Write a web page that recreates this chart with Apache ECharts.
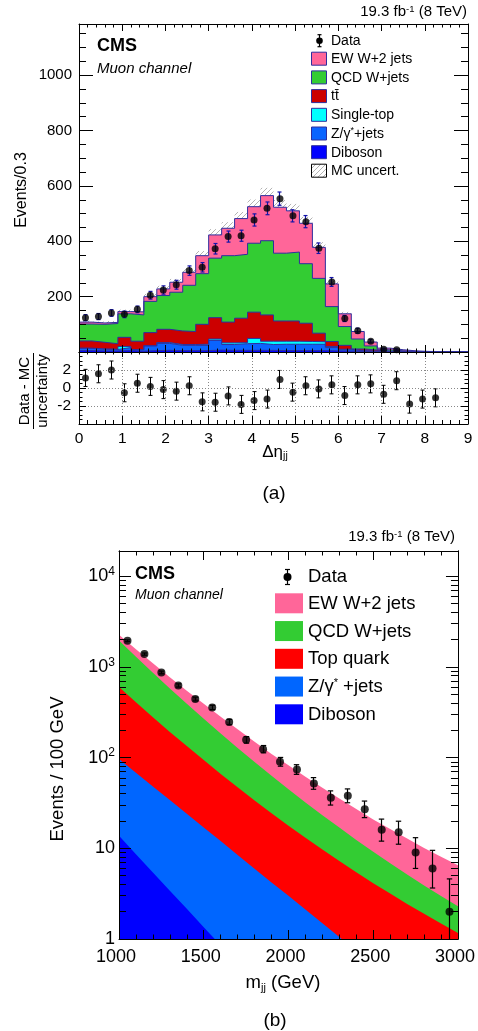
<!DOCTYPE html>
<html><head><meta charset="utf-8">
<script src="https://cdn.jsdelivr.net/npm/echarts@6/dist/echarts.min.js"></script>
<style>html,body{margin:0;padding:0;background:#fff}#c{width:478px;height:1031px}</style>
</head><body><div id="c"></div>
<script>
// ================= Panel (a): delta eta_jj =================
const etaEdges = [0,0.3,0.6,0.9,1.2,1.5,1.8,2.1,2.4,2.7,3.0,3.3,3.6,3.9,4.2,4.5,4.8,5.1,5.4,5.7,6.0,6.3,6.6,6.9,7.2,7.5,7.8,8.1,8.4,8.7,9.0];
const ewkW      = [7,5,4,8,11,17,24,36,47,65,84,99,129,132,163,166,149,146,112,82,46,27,14,6,4,2,1,0.8,0.5,0.3];
const qcdW      = [61,65,73,85,95,113,122,140,167,183,215,240,231,249,268,245,249,215,198,126,68,36,15,5,2,1,0.5,0.4,0.3,0.2];
const ttbar     = [26,24,20,33,30,47,48,49,47,72,77,75,88,95,95,73,73,66,31,18,14,6,4,1,1,0.5,0.2,0.1,0.05,0.05];
const singleTop = [1,1,1,4,1,1,3,3,3,4,5,6,4,18,12,11,11,10,9,4,2,1,1,0.5,0.2,0.1,0.1,0.05,0.05,0.05];
const zJets     = [8,6,5,11,5,17,25,19,19,19,35,21,24,25,21,23,23,23,23,12,5,2,1,0.5,0.5,0.2,0.1,0.1,0.05,0.05];
const diboson   = [5,4,4,5,3,5,6,5,5,5,7,6,6,6,6,5,5,5,5,4,3,2,1,1,0.5,0.3,0.2,0.1,0.05,0.05];
const mcUnc     = [5,5,5,7,7,10,11,12,14,17,21,22,24,26,28,26,25,23,19,12,7,4,2,1,0.5,0.3,0.2,0.1,0.1,0.05];
const dataEta    = [124,128,141,136,154,205,224,243,294,306,373,417,420,477,519,554,492,471,375,253,121,77,39,10,8];
const dataEtaErr = [11,11,12,12,12,14,15,16,17,17,19,20,20,22,23,24,22,22,19,16,11,9,6,3,3];
const pullEta    = [1.12,1.58,2.0,-0.53,0.53,0.18,-0.18,-0.35,0.25,-1.54,-1.58,-0.88,-1.82,-1.40,-1.23,0.95,-0.46,0.25,-0.1,0.35,-0.84,0.35,0.46,-0.7,0.81,-1.79,-1.23,-1.09];
const pullEtaErr = [0.95,1,1,1,1,1,1,1,1,1,1,1,1,1,1,1,1,1,1,1,1,1,1,1,1,1,1,1];

// ================= Panel (b): m_jj =================
const mjjGrid = [1000,1100,1200,1300,1400,1500,1600,1700,1800,1900,2000,2100,2200,2300,2400,2500,2600,2700,2800,2900,3000];
const ewkMjj = [306,276,233,192,154,124,98,77,60.7,47,37.4,29.4,23.3,18.4,14.7,11.7,9.5,7.7,6.2,5.1,4.2];
const qcdMjj = [1359,887,584,387,259,174,118,81,55.5,38.6,27.0,19.0,13.5,9.7,6.95,5.03,3.66,2.71,2.0,1.49,1.13];
const topMjj = [503,339,231,158,110,77,54,38.6,27.8,20.2,14.8,11.0,8.2,6.2,4.7,3.6,2.8,2.17,1.71,1.35,1.07];
const zMjj   = [83,59.5,42.8,30.6,21.9,15.6,11.2,7.9,5.6,4.0,2.86,2.03,1.44,1.02,0.72,0.51,0.36,0.26,0.18,0.13,0.09];
const dibMjj = [13.8,8.6,5.4,3.4,2.15,1.35,0.85,0.54,0.34,0.21,0.13,0.08,0.05,0.03,0.02,0.013,0.008,0.005,0.003,0.002,0.001];
const mjjDataX   = [1050,1150,1250,1350,1450,1550,1650,1750,1850,1950,2050,2150,2250,2350,2450,2550,2650,2750,2850,2950];
const dataMjj    = [1945,1387,870,625,443,358,247,157,124,90,74,52,36,38,27,16,15,9,6,2];
const dataMjjLo  = [44,37,29,25,21,19,16,12.5,11,9.5,8.6,7.2,6,6.2,5.2,4,3.9,3,2.35,1.9];
const dataMjjHi  = [45,38,30,26,22,20,17,13.5,12,10.5,9.6,8.2,7,7.2,6.2,5,4.9,4.1,3.5,2.6];

const FF = 'Liberation Sans';
const NAVY = '#2e2e9e';

// hatch pattern for MC uncertainty
const hc = document.createElement('canvas'); hc.width = 5; hc.height = 5;
(function(){ const g = hc.getContext('2d'); g.strokeStyle = '#a0a0a0'; g.lineWidth = 0.8;
  g.beginPath(); g.moveTo(0,5); g.lineTo(5,0); g.moveTo(-1,1); g.lineTo(1,-1); g.moveTo(4,6); g.lineTo(6,4); g.stroke(); })();
const hatch = {image: hc, repeat: 'repeat'};

// cumulative stacks
function cumulate(list) {
  let run = list[0].vals.map(() => 0);
  return list.map(s => { run = run.map((r, i) => r + s.vals[i]); return Object.assign({}, s, {cum: run.slice()}); });
}
const etaStack = cumulate([
  {vals: diboson, color: '#0000ff'},
  {vals: zJets, color: '#0a64ff'},
  {vals: singleTop, color: '#00ffff'},
  {vals: ttbar, color: '#cc0000'},
  {vals: qcdW, color: '#33cc33'},
  {vals: ewkW, color: '#ff6699'}
]);
const mjjStack = cumulate([
  {vals: dibMjj, color: '#0000ff'},
  {vals: zMjj, color: '#0066ff'},
  {vals: topMjj, color: '#ff0000'},
  {vals: qcdMjj, color: '#33cc33'},
  {vals: ewkMjj, color: '#ff6699'}
]);
const nEta = ewkW.length;
const etaTotal = etaStack[etaStack.length - 1].cum;
const etaCenters = etaEdges.slice(0, -1).map((e, i) => (e + etaEdges[i + 1]) / 2);

function errRender(color, cap, lw, floorVal) {
  return function (params, api) {
    const x = api.value(0); let lo = api.value(1); const hi = api.value(2);
    let clamped = false;
    if (floorVal != null && lo < floorVal) { lo = floorVal; clamped = true; }
    const p1 = api.coord([x, lo]), p2 = api.coord([x, hi]);
    const cx = Math.round(p1[0] - 0.5) + 0.5;
    const st = {stroke: color, lineWidth: lw};
    const ch = [
      {type: 'line', shape: {x1: cx, y1: p1[1], x2: cx, y2: p2[1]}, style: st},
      {type: 'line', shape: {x1: cx - cap, y1: p2[1], x2: cx + cap, y2: p2[1]}, style: st}
    ];
    if (!clamped) ch.push({type: 'line', shape: {x1: cx - cap, y1: p1[1], x2: cx + cap, y2: p1[1]}, style: st});
    return {type: 'group', children: ch};
  };
}

const series = [];
// MC uncertainty band (beneath stack)
series.push({
  type: 'custom', xAxisIndex: 0, yAxisIndex: 0, z: 1, silent: true,
  data: etaTotal.map((t, i) => [etaEdges[i], etaEdges[i + 1], t - mcUnc[i], t + mcUnc[i]]),
  encode: {x: [0, 1], y: [2, 3]},
  renderItem: function (params, api) {
    const a = api.coord([api.value(0), api.value(3)]);
    const b = api.coord([api.value(1), api.value(2)]);
    return {type: 'rect', shape: {x: a[0], y: a[1], width: b[0] - a[0], height: b[1] - a[1]}, style: {fill: hatch}};
  }
});
// stack histograms (draw top-most cumulative first)
etaStack.slice().reverse().forEach(s => {
  series.push({
    type: 'line', xAxisIndex: 0, yAxisIndex: 0, step: 'end', symbol: 'none', silent: true, z: 2,
    data: etaEdges.map((e, i) => [e, s.cum[Math.min(i, nEta - 1)]]),
    lineStyle: {color: NAVY, width: 1}, areaStyle: {color: s.color, opacity: 1}
  });
});
// data
series.push({
  type: 'custom', xAxisIndex: 0, yAxisIndex: 0, z: 3, silent: true,
  data: dataEta.map((d, i) => [etaCenters[i], d - dataEtaErr[i], d + dataEtaErr[i]]),
  encode: {x: 0, y: [1, 2]}, renderItem: errRender('#1414a8', 2, 1.2)
});
series.push({
  type: 'scatter', xAxisIndex: 0, yAxisIndex: 0, z: 4, symbol: 'circle', symbolSize: 7, silent: true,
  itemStyle: {color: '#000'}, data: dataEta.map((d, i) => [etaCenters[i], d])
});
// ratio panel
series.push({
  type: 'custom', xAxisIndex: 2, yAxisIndex: 2, z: 3, silent: true,
  data: pullEta.map((p, i) => [etaCenters[i], p - pullEtaErr[i], p + pullEtaErr[i]]),
  encode: {x: 0, y: [1, 2]}, renderItem: errRender('#000', 2, 1)
});
series.push({
  type: 'scatter', xAxisIndex: 2, yAxisIndex: 2, z: 4, symbol: 'circle', symbolSize: 7, silent: true,
  itemStyle: {color: '#000'}, data: pullEta.map((p, i) => [etaCenters[i], p])
});
// panel b stacks
mjjStack.slice().reverse().forEach(s => {
  series.push({
    type: 'line', xAxisIndex: 4, yAxisIndex: 4, symbol: 'none', silent: true, z: 2,
    data: mjjGrid.map((m, i) => [m, s.cum[i]]),
    lineStyle: {width: 0}, areaStyle: {color: s.color, opacity: 1}
  });
});
series.push({
  type: 'custom', xAxisIndex: 4, yAxisIndex: 4, z: 3, silent: true,
  data: dataMjj.map((d, i) => [mjjDataX[i], d - dataMjjLo[i], d + dataMjjHi[i]]),
  encode: {x: 0, y: [1, 2]}, renderItem: errRender('#000', 2.7, 1.2, 1)
});
series.push({
  type: 'scatter', xAxisIndex: 4, yAxisIndex: 4, z: 4, symbol: 'circle', symbolSize: 8, silent: true,
  itemStyle: {color: '#000'}, data: dataMjj.map((d, i) => [mjjDataX[i], d])
});

// ---- axes ----
const plain = v => String(Math.round(v * 1000) / 1000);
const line = {show: true, onZero: false, lineStyle: {color: '#000', width: 1}};
function xAx(grid, pos, min, max, interval, maj, mnr, labels, extra) {
  return Object.assign({
    type: 'value', gridIndex: grid, position: pos, min, max, interval, z: 5,
    axisLine: line,
    axisTick: {show: true, inside: true, length: maj, lineStyle: {color: '#000'}},
    minorTick: {show: true, splitNumber: 5, length: mnr, lineStyle: {color: '#000'}},
    axisLabel: labels ? Object.assign({show: true, color: '#000', fontFamily: FF, formatter: plain}, labels) : {show: false},
    splitLine: {show: false}
  }, extra || {});
}
function yAx(grid, pos, min, max, interval, maj, mnr, split, labels, extra) {
  return Object.assign({
    type: 'value', gridIndex: grid, position: pos, min, max, interval, z: 5,
    axisLine: line,
    axisTick: {show: true, inside: true, length: maj, lineStyle: {color: '#000'}},
    minorTick: {show: true, splitNumber: split, length: mnr, lineStyle: {color: '#000'}},
    axisLabel: labels ? Object.assign({show: true, color: '#000', fontFamily: FF, showMinLabel: false, showMaxLabel: false, formatter: plain}, labels) : {show: false},
    splitLine: {show: false}
  }, extra || {});
}
const dotted = {splitLine: {show: true, lineStyle: {color: '#888', type: [1, 2], width: 1}}};
const logMinor = [];
[1, 10, 100, 1000, 10000].forEach(d => { for (let k = 2; k <= 9; k++) if (k * d < 19000) logMinor.push(k * d); });
function logAx(pos, maj, vals, labels) {
  return {
    type: 'log', logBase: 10, gridIndex: 2, position: pos, min: 1, max: 19000, interval: 1, z: 5,
    axisLine: line,
    axisTick: Object.assign({show: true, inside: true, length: maj, lineStyle: {color: '#000'}}, vals ? {customValues: vals} : {}),
    minorTick: {show: false},
    axisLabel: labels || {show: false},
    splitLine: {show: false}
  };
}

const xAxis = [
  xAx(0, 'bottom', 0, 9, 1, 7, 3.5, null),
  xAx(0, 'top', 0, 9, 1, 7, 3.5, null),
  xAx(1, 'bottom', 0, 9, 1, 8, 4, {fontSize: 15.5, margin: 7}, dotted),
  xAx(1, 'top', 0, 9, 1, 5, 2.5, null),
  xAx(2, 'bottom', 1000, 3000, 500, 9, 4.5, {fontSize: 18, margin: 9, padding: [0, 6, 0, 0]}),
  xAx(2, 'top', 1000, 3000, 500, 9, 4.5, null)
];
const yAxis = [
  yAx(0, 'left', 0, 1185, 200, 14, 7, 4, {fontSize: 15, margin: 7}),
  yAx(0, 'right', 0, 1185, 200, 14, 7, 4, null),
  yAx(1, 'left', -4, 4, 2, 7, 3.5, 4, {fontSize: 15.5, margin: 8}, dotted),
  yAx(1, 'right', -4, 4, 2, 7, 3.5, 4, null),
  logAx('left', 12, null, {
    show: true, color: '#000', fontFamily: FF, fontSize: 18, margin: 4, showMaxLabel: false,
    formatter: function (v) { const e = Math.round(Math.log10(v)); return e === 0 ? '1' : e === 1 ? '10' : '10{s|' + e + '}'; },
    rich: {s: {fontSize: 12, verticalAlign: 'top', padding: [0, 0, 9, 0], fontFamily: FF, color: '#000'}}
  }),
  logAx('right', 12, null, null),
  logAx('left', 7, logMinor, null),
  logAx('right', 7, logMinor, null)
];

// ---- text / legend graphics ----
function txt(x, y, text, st, rot) {
  const s = Object.assign({text, fill: '#000', fontFamily: FF, fontSize: 14, align: 'left', verticalAlign: 'middle', textAlign: 'left', textVerticalAlign: 'middle'}, st || {});
  if (s.align) s.textAlign = s.align;
  if (s.verticalAlign) s.textVerticalAlign = s.verticalAlign;
  const o = {type: 'text', x, y, silent: true, z: 100, style: s};
  if (rot) o.rotation = rot;
  return o;
}
function rect(x, y, w, h, fill, stroke) {
  return {type: 'rect', silent: true, z: 100, shape: {x, y, width: w, height: h}, style: {fill, stroke: stroke || null, lineWidth: stroke ? 1 : 0}};
}
function dataMarker(cx, cy, r, half, cap) {
  return [
    {type: 'line', silent: true, z: 100, shape: {x1: cx, y1: cy - half, x2: cx, y2: cy + half}, style: {stroke: '#000', lineWidth: 1.2}},
    {type: 'line', silent: true, z: 100, shape: {x1: cx - cap, y1: cy - half, x2: cx + cap, y2: cy - half}, style: {stroke: '#000', lineWidth: 1.2}},
    {type: 'line', silent: true, z: 100, shape: {x1: cx - cap, y1: cy + half, x2: cx + cap, y2: cy + half}, style: {stroke: '#000', lineWidth: 1.2}},
    {type: 'circle', silent: true, z: 101, shape: {cx, cy, r}, style: {fill: '#000'}}
  ];
}
const lumiRich = {s: {fontSize: 9.5, verticalAlign: 'top', fontFamily: FF, fill: '#000', padding: [0, 0, 6, 0]}, b: {fontSize: 15, fontFamily: FF}};
const graphic = [];
// panel a texts
graphic.push(txt(467, 12, '{b|19.3 fb}{s|-1}{b| (8 TeV)}', {align: 'right', rich: lumiRich}));
graphic.push(txt(97, 46, 'CMS', {fontSize: 18, fontWeight: 'bold'}));
graphic.push(txt(97, 69, 'Muon channel', {fontSize: 15, fontStyle: 'italic'}));
// legend a
const legA = [
  ['EW W+2 jets', '#ff6699'], ['QCD W+jets', '#33cc33'], ['tt\u0304', '#cc0000'], ['Single-top', '#00ffff'],
  ['Z/γ{s|*}+jets', '#0a64ff'], ['Diboson', '#0000ff']
];
dataMarker(319.5, 40.7, 3.3, 6, 2).forEach(g => graphic.push(g));
graphic.push(txt(331, 41, 'Data', {fontSize: 14}));
legA.forEach((l, i) => {
  const cy = 58.7 + i * 18.7;
  graphic.push(rect(311.5, cy - 6.5, 15, 13, l[1], NAVY));
  graphic.push(txt(331, cy + 0.5, l[0], {fontSize: 14, rich: {s: {fontSize: 9, verticalAlign: 'top', padding: [0, 0, 6, 0]}}}));
});
graphic.push(rect(311.5, 170.7 - 6.5, 15, 13, hatch, '#000'));
graphic.push(txt(331, 171.2, 'MC uncert.', {fontSize: 14}));
// axis titles a
graphic.push(txt(22, 190, 'Events/0.3', {fontSize: 16, align: 'center'}, Math.PI / 2));
graphic.push(txt(25, 391, 'Data - MC', {fontSize: 15, align: 'center'}, Math.PI / 2));
graphic.push({type: 'line', silent: true, z: 100, shape: {x1: 33.5, y1: 353, x2: 33.5, y2: 429}, style: {stroke: '#000', lineWidth: 1}});
graphic.push(txt(42.5, 391, 'uncertainty', {fontSize: 15, align: 'center'}, Math.PI / 2));
graphic.push(txt(275, 452, '{b|Δη}{d|jj}', {align: 'center', rich: {b: {fontSize: 17, fontFamily: FF}, d: {fontSize: 10.5, fontFamily: FF, verticalAlign: 'bottom', padding: [8, 0, 0, 0]}}}));
graphic.push(txt(274, 494, '(a)', {fontSize: 19, align: 'center'}));
// panel b texts
graphic.push(txt(455, 537, '{b|19.3 fb}{s|-1}{b| (8 TeV)}', {align: 'right', rich: lumiRich}));
graphic.push(txt(135, 574, 'CMS', {fontSize: 18, fontWeight: 'bold'}));
graphic.push(txt(135, 595, 'Muon channel', {fontSize: 14, fontStyle: 'italic'}));
dataMarker(287.5, 577, 4, 7.5, 2.5).forEach(g => graphic.push(g));
graphic.push(txt(308, 577, 'Data', {fontSize: 18.5}));
const legB = [['EW W+2 jets', '#ff6699'], ['QCD W+jets', '#33cc33'], ['Top quark', '#ff0000'], ['Z/γ{s|*} +jets', '#0066ff'], ['Diboson', '#0000ff']];
legB.forEach((l, i) => {
  const cy = 603.3 + i * 27.75;
  graphic.push(rect(275, cy - 10, 28, 20, l[1], null));
  graphic.push(txt(308, cy + 0.5, l[0], {fontSize: 18.5, rich: {s: {fontSize: 11, verticalAlign: 'top', padding: [0, 0, 8, 0]}}}));
});
graphic.push(txt(58, 769, 'Events / 100 GeV', {fontSize: 18.5, align: 'center'}, Math.PI / 2));
graphic.push(txt(283, 983, '{b|m}{d|jj}{b| (GeV)}', {align: 'center', rich: {b: {fontSize: 18.5, fontFamily: FF}, d: {fontSize: 11, fontFamily: FF, verticalAlign: 'bottom', padding: [9, 0, 0, 0]}}}));
graphic.push(txt(275, 1021, '(b)', {fontSize: 19, align: 'center'}));

const chart = echarts.init(document.getElementById('c'), null, {renderer: 'canvas'});
chart.setOption({
  animation: false,
  backgroundColor: '#fff',
  textStyle: {fontFamily: FF},
  grid: [
    {left: 79, width: 389, top: 24, height: 328, containLabel: false},
    {left: 79, width: 389, top: 352, height: 72, containLabel: false},
    {left: 119, width: 343, top: 551, height: 388, containLabel: false}
  ],
  xAxis, yAxis, series, graphic
});
</script></body></html>
